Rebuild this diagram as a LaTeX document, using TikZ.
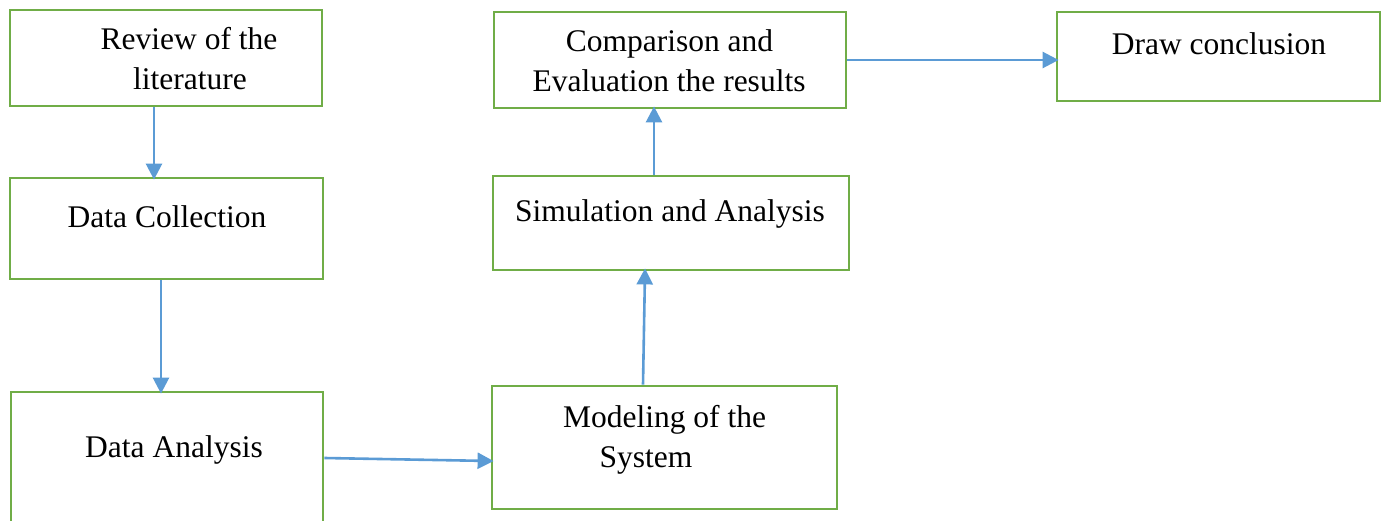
\documentclass[tikz,border=0pt]{standalone}
\usepackage{fontspec}
\setmainfont{Liberation Serif}
\usetikzlibrary{arrows.meta}
\definecolor{boxgreen}{HTML}{70AD47}
\definecolor{arrowblue}{HTML}{5B9BD5}
\begin{document}
\begin{tikzpicture}[x=1pt,y=-1pt,
  stagebox/.style={draw=boxgreen, line width=2.8pt, rectangle, inner sep=0pt},
  lbl/.style={anchor=base, inner sep=0pt, font=\fontsize{31.5}{40}\selectfont},
  arr/.style={draw=arrowblue, line width=2.6pt,
    -{Triangle[length=16pt,width=16pt]}, shorten >=-3pt}]
\useasboundingbox (0,0) rectangle (1386,521);

% stage boxes
\node[stagebox, minimum width=312pt, minimum height=96pt]  (rev) at (166,58) {};
\node[stagebox, minimum width=313pt, minimum height=101pt] (col) at (166.5,228.5) {};
\node[stagebox, minimum width=312pt, minimum height=148pt] (ana) at (167,466) {};
\node[stagebox, minimum width=345pt, minimum height=123pt] (mod) at (664.5,447.5) {};
\node[stagebox, minimum width=356pt, minimum height=94pt]  (sim) at (671,223) {};
\node[stagebox, minimum width=352pt, minimum height=96pt]  (cmp) at (670,60) {};
\node[stagebox, minimum width=323pt, minimum height=89pt]  (con) at (1218.5,56.5) {};

% stage labels
\node[lbl] (revA) at (189,50) {Review of the};
\node[lbl] (revB) at (190,90) {literature};
\node[lbl] (colA) at (167,228) {Data Collection};
\node[lbl] (anaA) at (174,457) {Data Analysis};
\node[lbl] (modA) at (664.5,427) {Modeling of the};
\node[lbl] (modB) at (646,467) {System};
\node[lbl] (simA) at (670,222) {Simulation and Analysis};
\node[lbl] (cmpA) at (669.5,52) {Comparison and};
\node[lbl] (cmpB) at (669,92) {Evaluation the results};
\node[lbl] (conA) at (1219,55) {Draw conclusion};

% flow
\draw[arr] ([xshift=-12pt]rev.south) -- ([xshift=-12.5pt]col.north);
\draw[arr] ([xshift=-5.5pt]col.south) -- ([xshift=-6pt]ana.north);
\draw[arr] ([yshift=8pt]ana.east) -- ([yshift=-13.5pt]mod.west);
\draw[arr] ([xshift=-21.5pt]mod.north) -- ([xshift=-26pt]sim.south);
\draw[arr] ([xshift=-17pt]sim.north) -- ([xshift=-16pt]cmp.south);
\draw[arr] (cmp.east) -- ([yshift=-3.5pt]con.west);
\end{tikzpicture}
\end{document}
